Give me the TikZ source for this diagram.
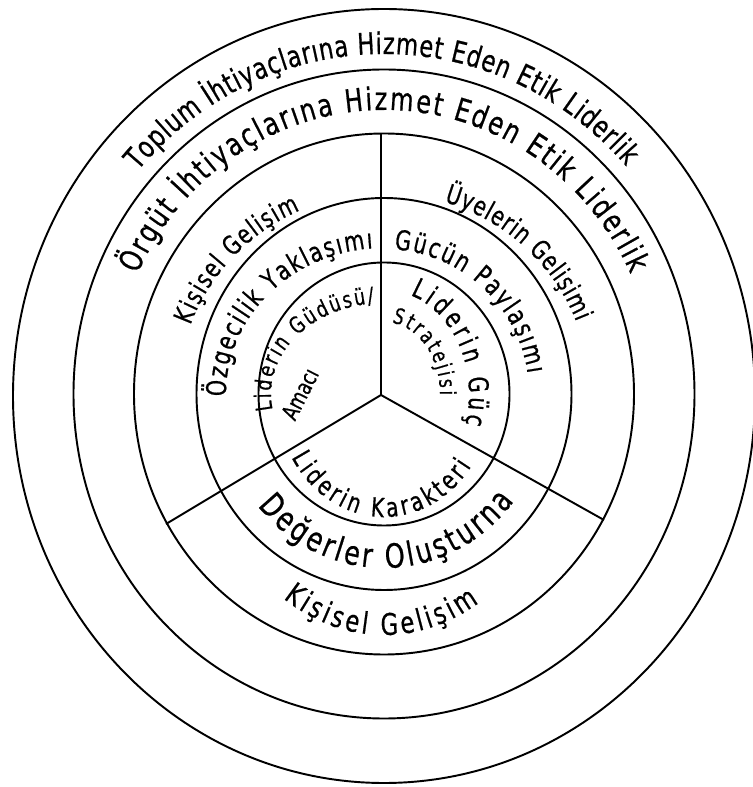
\documentclass[tikz,border=0pt]{standalone}
\usepackage{fontspec}
\newfontfamily\ringfont[FakeStretch=0.76,FakeBold=0.6]{DejaVu Sans}
\newcommand{\rf}[1]{\ringfont\fontsize{#1}{#1}\selectfont}
\usetikzlibrary{decorations.text}
\tikzset{
  ring/.style={line width=1.1pt},
  ringtext/.style={decorate,decoration={text along path,text align=fit to path,text={#1}}}
}

\begin{document}
\begin{tikzpicture}[x=0.02cm,y=0.02cm]
\useasboundingbox (-384,-393) rectangle (369,394);
% rings
\draw[ring] (0,-2) ellipse [x radius=371, y radius=387];
\draw[ring] (0,0) ellipse [x radius=310.5, y radius=324.5];
\draw[ring] (0,0) ellipse [x radius=250, y radius=260.5];
\draw[ring] (0,0) ellipse [x radius=187.5, y radius=196];
\draw[ring] (0,0) ellipse [x radius=125.5, y radius=131.5];
% spokes
\coordinate (hub) at (-3,-1);
\coordinate (topend) at (-3,260.5);
\coordinate (leftend) at (-218,-130);
\coordinate (rightend) at (220,-126);
\draw[ring] (hub) -- (topend);
\draw[ring] (hub) -- (leftend);
\draw[ring] (hub) -- (rightend);
% outer bands
\path[ringtext={|\rf{17}|Toplum İhtiyaçlarına Hizmet Eden Etik Liderlik}] (139:326 and 340) arc[start angle=139,end angle=42,x radius=326,y radius=340];
\path[ringtext={|\rf{18}|Örgüt İhtiyaçlarına Hizmet Eden Etik Liderlik}] (155:272 and 284) arc[start angle=155,end angle=25,x radius=272,y radius=284];
% third band
\path[ringtext={|\rf{15}|Kişisel Gelişim}] (160:206 and 201) arc[start angle=160,end angle=114,x radius=206,y radius=201];
\path[ringtext={|\rf{15}|Üyelerin Gelişimi}] (73:206 and 201) arc[start angle=73,end angle=21,x radius=206,y radius=201];
\path[ringtext={|\rf{17}|Kişisel Gelişim}] (238:190 and 241) arc[start angle=238,end angle=300,x radius=190,y radius=241];
% fourth band
\path[ringtext={|\rf{15.5}|Özgecilik Yaklaşımı}] (181:158 and 146) arc[start angle=181,end angle=94,x radius=158,y radius=146];
\path[ringtext={|\rf{15.5}|Gücün Paylaşımı}] (86:145 and 145) arc[start angle=86,end angle=8,x radius=145,y radius=145];
\path[ringtext={|\rf{19}|Değerler Oluşturna}] (220:165 and 174) arc[start angle=220,end angle=322,x radius=165,y radius=174];
% inner disc
\path[ringtext={|\rf{13}|Liderin Güdüsü/}] (190:113 and 91) arc[start angle=190,end angle=95,x radius=113,y radius=91];
\node[rotate=63,font=\rf{13},inner sep=0pt] (amac) at (-84,0) {Amacı};
\path[ringtext={|\rf{15.5}|Liderin Güç}] (72:85 and 104) arc[start angle=72,end angle=-17,x radius=85,y radius=104];
\path[ringtext={|\rf{12.5}|Stratejisi}] (82:56 and 72) arc[start angle=82,end angle=-1,x radius=56,y radius=72];
\path[ringtext={|\rf{15}|Liderin Karakteri}] (211:108 and 123) arc[start angle=211,end angle=324,x radius=108,y radius=123];
\end{tikzpicture}
\end{document}
